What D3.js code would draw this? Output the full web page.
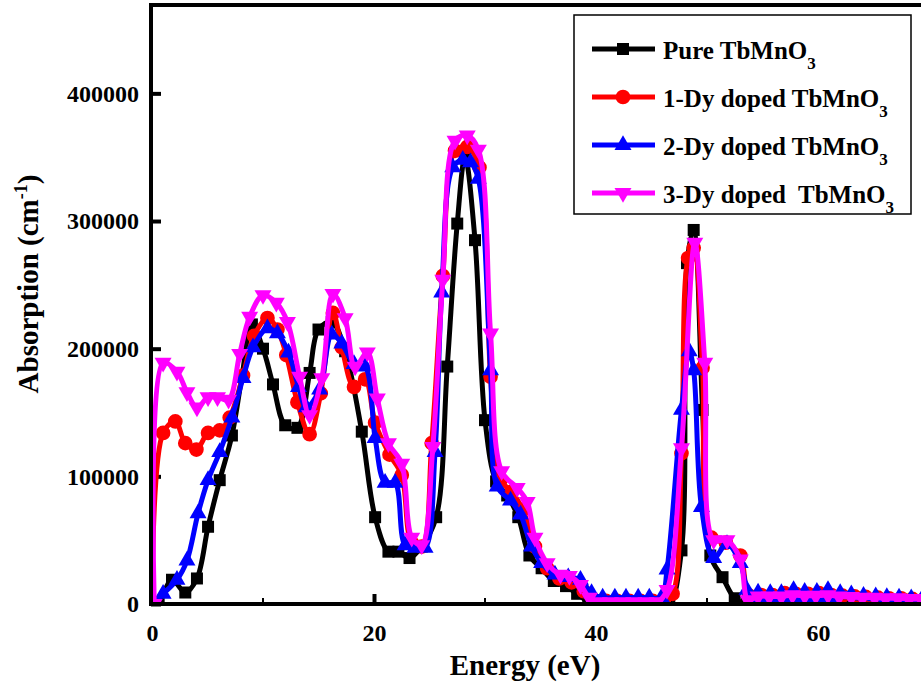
<!DOCTYPE html>
<html>
<head>
<meta charset="utf-8">
<script src="https://cdn.jsdelivr.net/npm/d3@7"></script>
<style>
  html, body { margin: 0; padding: 0; background: #fff; }
  svg { display: block; }
  text { font-family: "Liberation Serif", "Times New Roman", serif; font-weight: bold; fill: #000; white-space: pre; }
</style>
</head>
<body>
<svg id="chart" width="921" height="687"></svg>
<script>
// Absorption spectra, [energy (eV), absorption (cm^-1)]
const pure = [[0,0],[0.6,1500],[1.8,19000],[3.0,9000],[4.05,20000],[5.05,60500],[6.1,97000],[7.2,132000],[8.1,178000],[9.0,219000],[10.0,200000],[10.9,172000],[12.0,140000],[13.1,138000],[14.2,181000],[15.0,215000],[16.2,221000],[17.4,198000],[18.9,135000],[20.1,68000],[21.3,41000],[22.2,41000],[23.2,36000],[24.3,45000],[25.6,68000],[26.6,186000],[27.5,298000],[28.2,350000],[29.1,285000],[30.0,144000],[31.0,96000],[32.0,85000],[33.0,68000],[34.0,38000],[35.1,28000],[36.2,18000],[37.3,14000],[38.3,8000],[39.3,2000],[40.4,0],[41.4,0],[42.5,0],[43.5,0],[44.6,0],[45.6,0],[46.6,0],[47.7,42000],[48.2,267000],[48.8,293000],[49.6,152000],[50.3,38000],[51.4,21000],[52.5,4500],[53.6,0],[54.7,0],[55.7,0],[56.8,1000],[57.8,0],[58.9,1500],[59.9,0],[61.0,1000],[62.0,0],[63.1,0],[64.1,0],[65.2,0],[66.2,0],[67.3,0],[68.3,0],[69.4,0]];

const dy1 = [[0,0],[1.0,134000],[2.1,143000],[3.0,126000],[4.0,121000],[5.05,134000],[6.1,136000],[7.0,146000],[8.2,179000],[9.2,210000],[10.4,224000],[11.3,215000],[12.1,195000],[13.1,158000],[14.2,133000],[15.2,165000],[16.3,228000],[17.1,201000],[18.2,170000],[19.2,176000],[20.1,142000],[21.4,117000],[22.5,101000],[23.4,48000],[24.3,45000],[25.2,126000],[26.2,257000],[27.3,355000],[28.4,358000],[29.5,342000],[30.5,178000],[31.4,97000],[32.4,88000],[33.4,74000],[34.5,45000],[35.6,28000],[36.7,20000],[37.8,17000],[38.9,10000],[39.8,2500],[40.9,2500],[41.9,2500],[43.0,2500],[44.0,2500],[45.1,2500],[46.1,2500],[46.9,8000],[47.7,118000],[48.3,271000],[48.8,279000],[49.6,185000],[50.4,52000],[51.7,48000],[53.0,38000],[53.8,6500],[54.9,7000],[55.9,7000],[57.0,8500],[58.0,8000],[59.1,8000],[60.1,8500],[61.2,7000],[62.2,6500],[63.3,6000],[64.3,5500],[65.4,5000],[66.4,4500],[67.5,4500],[68.5,4000],[69.6,4000]];

const dy2 = [[0,0],[1.0,8000],[2.25,19000],[3.15,34000],[4.15,71000],[5.05,97000],[6.1,119000],[7.2,146000],[8.2,177000],[9.1,201000],[10.4,216000],[11.3,212000],[12.3,197000],[13.2,170000],[13.9,154000],[15.1,168000],[16.2,211000],[17.1,204000],[18.2,188000],[19.2,186000],[20.1,130000],[21.0,95000],[21.9,95000],[22.8,46000],[23.7,44000],[24.6,44000],[25.5,119000],[26.1,244000],[27.1,342000],[28.0,348000],[28.7,346000],[29.4,333000],[30.5,183000],[31.1,92000],[32.3,81000],[33.2,70000],[34.2,45000],[35.1,32000],[36.3,23000],[37.5,21000],[38.6,19000],[39.6,8500],[40.6,5000],[41.7,5000],[42.7,5000],[43.8,5000],[44.8,5000],[45.9,5000],[46.4,27000],[47.7,152000],[48.4,198000],[48.8,183000],[49.5,76000],[50.6,36000],[51.8,47000],[53.0,32000],[53.6,11000],[54.1,800],[54.6,9000],[55.1,800],[55.7,8500],[56.2,800],[56.7,8500],[57.2,800],[57.8,11000],[58.3,800],[58.8,9500],[59.3,800],[59.9,9500],[60.4,800],[60.9,11000],[61.5,800],[62.0,8500],[63.0,7500],[64.1,6500],[65.2,6000],[66.2,5500],[67.3,5000],[68.4,4500],[69.4,4500]];

const dy3 = [[0.2,0],[1.0,189000],[2.25,182000],[3.15,166000],[4.05,154000],[5.05,162000],[5.9,162000],[6.9,160000],[7.9,196000],[8.8,225000],[10.0,242000],[11.2,236000],[12.2,221000],[13.3,178000],[14.2,148000],[15.3,177000],[16.3,243000],[17.4,224000],[18.3,186000],[19.4,197000],[20.3,161000],[21.3,126000],[22.5,110000],[23.4,52000],[24.3,46000],[25.3,123000],[26.2,254000],[27.3,363000],[28.4,367000],[29.4,356000],[30.5,212000],[31.5,104000],[32.9,91000],[33.8,80000],[34.5,52000],[35.6,32000],[36.8,23000],[37.6,22000],[38.6,15000],[39.4,5000],[40.3,1500],[41.3,1500],[42.4,1500],[43.4,1500],[44.5,1500],[45.5,1500],[46.4,11000],[47.7,122000],[48.9,283000],[49.8,189000],[50.6,50000],[51.8,50000],[53.0,35000],[53.7,3000],[54.6,6000],[55.6,6000],[56.7,6000],[57.7,7000],[58.8,6500],[59.8,6500],[60.9,7000],[61.9,6000],[63.0,5500],[64.0,5000],[65.1,5000],[66.1,4500],[67.2,4500],[68.2,4000],[69.3,4000]];

const seriesNames = ["Pure TbMnO", "1-Dy doped TbMnO", "2-Dy doped TbMnO", "3-Dy doped  TbMnO"];
const seriesColors = ["#000000", "#ff0000", "#0000ff", "#ff00ff"];
const xTicks = [0, 20, 40, 60];
const xMinorTicks = [10, 30, 50, 70];
const yTicks = [0, 100000, 200000, 300000, 400000];

const svg = d3.select("#chart");
const x = d3.scaleLinear().domain([0, 70]).range([152, 929]);
const y = d3.scaleLinear().domain([0, 470000]).range([604, 4]);

// symbol shapes per series: square, circle, up triangle, down triangle
const shapes = [
  { type: d3.symbolSquare, size: 144, rot: 0 },
  { type: d3.symbolCircle, size: 170, rot: 0 },
  { type: d3.symbolTriangle, size: 125, rot: 0 },
  { type: d3.symbolTriangle, size: 125, rot: 180 }
];

svg.append("defs").append("clipPath").attr("id", "plotClip")
  .append("rect").attr("x", 151).attr("y", 5).attr("width", 800).attr("height", 599);

// axes
const yAxis = d3.axisLeft(y).tickValues(yTicks).tickFormat(d3.format("d")).tickSize(-10).tickPadding(12);
const yg = svg.append("g").attr("transform", "translate(151,0)").call(yAxis);
const xAxis = d3.axisBottom(x).tickValues(xTicks).tickFormat(d3.format("d")).tickSize(-10).tickPadding(20);
const xg = svg.append("g").attr("transform", "translate(0,604)").call(xAxis);
[yg, xg].forEach(g => {
  g.select(".domain").remove();
  g.selectAll(".tick line").attr("stroke", "#000").attr("stroke-width", 4);
  g.selectAll(".tick text").attr("font-size", 24).attr("font-family", null).attr("fill", "#000");
});
svg.append("g").selectAll("line").data(xMinorTicks).join("line")
  .attr("x1", d => x(d)).attr("x2", d => x(d)).attr("y1", 604).attr("y2", 598)
  .attr("stroke", "#000").attr("stroke-width", 2);

// series
const line = d3.line().x(d => x(d[0])).y(d => y(d[1])).curve(d3.curveCatmullRom.alpha(0.5));
const plot = svg.append("g").attr("clip-path", "url(#plotClip)");
[pure, dy1, dy2, dy3].forEach((data, i) => {
  const g = plot.append("g");
  g.append("path").datum(data).attr("d", line)
    .attr("fill", "none").attr("stroke", seriesColors[i]).attr("stroke-width", 5)
    .attr("stroke-linejoin", "round");
  const sym = d3.symbol().type(shapes[i].type).size(shapes[i].size);
  g.selectAll("path.m").data(data).join("path").attr("class", "m")
    .attr("d", sym)
    .attr("transform", d => `translate(${x(d[0])},${y(d[1])}) rotate(${shapes[i].rot})`)
    .attr("fill", seriesColors[i]);
});

// frame
svg.append("line").attr("x1", 151).attr("x2", 151).attr("y1", 3).attr("y2", 606).attr("stroke", "#000").attr("stroke-width", 4);
svg.append("line").attr("x1", 149).attr("x2", 921).attr("y1", 604).attr("y2", 604).attr("stroke", "#000").attr("stroke-width", 4);
svg.append("line").attr("x1", 149).attr("x2", 921).attr("y1", 5).attr("y2", 5).attr("stroke", "#000").attr("stroke-width", 4);

// axis titles
svg.append("text").attr("x", 525).attr("y", 675).attr("text-anchor", "middle")
  .attr("font-size", 29).text("Energy (eV)");
const yt = svg.append("text").attr("transform", "translate(38,284) rotate(-90)")
  .attr("text-anchor", "middle").attr("font-size", 29);
yt.append("tspan").text("Absorption (cm");
yt.append("tspan").attr("font-size", 18).attr("dy", -11).text("-1");
yt.append("tspan").attr("dy", 11).text(")");

// legend
const lg = svg.append("g");
lg.append("rect").attr("x", 574).attr("y", 15).attr("width", 337).attr("height", 199)
  .attr("fill", "#fff").attr("stroke", "#000").attr("stroke-width", 1.5);
seriesNames.forEach((name, i) => {
  const cy = 49 + i * 48;
  lg.append("line").attr("x1", 592).attr("x2", 655).attr("y1", cy).attr("y2", cy)
    .attr("stroke", seriesColors[i]).attr("stroke-width", 5);
  lg.append("path").attr("d", d3.symbol().type(shapes[i].type).size(shapes[i].size)())
    .attr("transform", `translate(623,${cy}) rotate(${shapes[i].rot})`)
    .attr("fill", seriesColors[i]);
  const t = lg.append("text").attr("x", 663).attr("y", cy + 9.5).attr("font-size", 25);
  t.append("tspan").text(name);
  t.append("tspan").attr("font-size", 17).attr("dy", 10.5).text("3");
});
</script>
</body>
</html>
